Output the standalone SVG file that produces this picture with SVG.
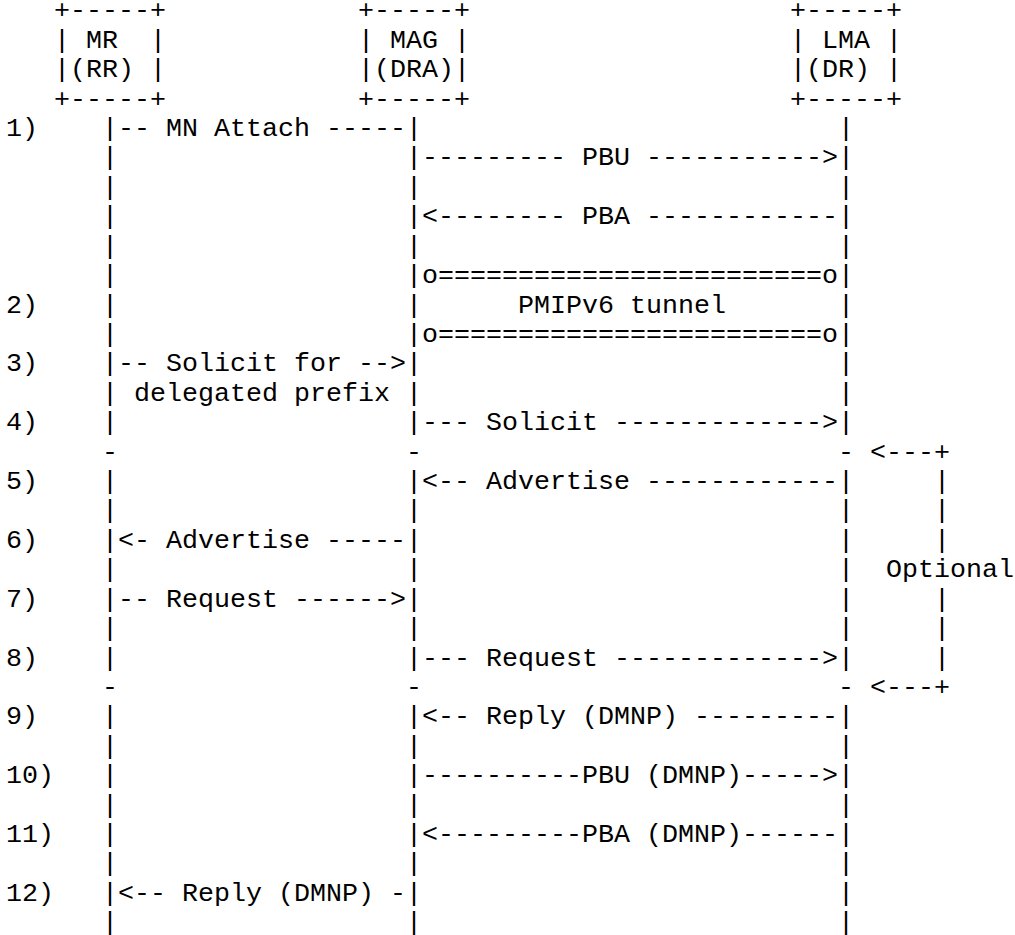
<svg xmlns="http://www.w3.org/2000/svg" width="1015" height="935" viewBox="0 0 1015 935" xml:space="preserve">
<style>
text{font-family:"Liberation Mono","Courier New",monospace;font-size:26.67px;fill:#000;white-space:pre}
</style>
<rect x="0" y="0" width="1015" height="935" fill="#fff"/>
<g id="node-mr">
<text x="54" y="18.3">+-----+</text>
<text x="54" y="47.72">| MR  |</text>
<text x="54" y="77.14">|(RR) |</text>
<text x="54" y="106.56">+-----+</text>
</g>
<g id="node-mag">
<text x="358" y="18.3">+-----+</text>
<text x="358" y="47.72">| MAG |</text>
<text x="358" y="77.14">|(DRA)|</text>
<text x="358" y="106.56">+-----+</text>
</g>
<g id="node-lma">
<text x="790" y="18.3">+-----+</text>
<text x="790" y="47.72">| LMA |</text>
<text x="790" y="77.14">|(DR) |</text>
<text x="790" y="106.56">+-----+</text>
</g>
<g id="step-labels">
<text x="6" y="135.98">1)</text>
<text x="6" y="312.5">2)</text>
<text x="6" y="371.34">3)</text>
<text x="6" y="430.18">4)</text>
<text x="6" y="489.02">5)</text>
<text x="6" y="547.86">6)</text>
<text x="6" y="606.7">7)</text>
<text x="6" y="665.54">8)</text>
<text x="6" y="724.38">9)</text>
<text x="6" y="783.22">10)</text>
<text x="6" y="842.06">11)</text>
<text x="6" y="900.9">12)</text>
</g>
<g id="connectors">
<g id="lifelines">
<text id="life-mr" x="102 102 102 102 102 102 102 102 102 102 102 102 102 102 102 102 102 102 102 102 102 102 102 102 102 102 102 102" y="135.98 165.4 194.82 224.24 253.66 283.08 312.5 341.92 371.34 400.76 430.18 459.6 489.02 518.44 547.86 577.28 606.7 636.12 665.54 694.96 724.38 753.8 783.22 812.64 842.06 871.48 900.9 930.32">|||||||||||-|||||||-||||||||</text>
<text id="life-mag" x="406 406 406 406 406 406 406 406 406 406 406 406 406 406 406 406 406 406 406 406 406 406 406 406 406 406 406 406" y="135.98 165.4 194.82 224.24 253.66 283.08 312.5 341.92 371.34 400.76 430.18 459.6 489.02 518.44 547.86 577.28 606.7 636.12 665.54 694.96 724.38 753.8 783.22 812.64 842.06 871.48 900.9 930.32">|||||||||||-|||||||-||||||||</text>
<text id="life-lma" x="838 838 838 838 838 838 838 838 838 838 838 838 838 838 838 838 838 838 838 838 838 838 838 838 838 838 838 838" y="135.98 165.4 194.82 224.24 253.66 283.08 312.5 341.92 371.34 400.76 430.18 459.6 489.02 518.44 547.86 577.28 606.7 636.12 665.54 694.96 724.38 753.8 783.22 812.64 842.06 871.48 900.9 930.32">|||||||||||-|||||||-||||||||</text>
</g>
<g id="messages">
<text x="118" y="135.98">-- MN Attach -----</text>
<text x="422" y="165.4">--------- PBU -----------&gt;</text>
<text x="422" y="224.24">&lt;-------- PBA ------------</text>
<text x="422" y="283.08">o========================o</text>
<text x="518" y="312.5">PMIPv6 tunnel</text>
<text x="422" y="341.92">o========================o</text>
<text x="118" y="371.34">-- Solicit for --&gt;</text>
<text x="134" y="400.76">delegated prefix</text>
<text x="422" y="430.18">--- Solicit -------------&gt;</text>
<text x="422" y="489.02">&lt;-- Advertise ------------</text>
<text x="118" y="547.86">&lt;- Advertise -----</text>
<text x="118" y="606.7">-- Request ------&gt;</text>
<text x="422" y="665.54">--- Request -------------&gt;</text>
<text x="422" y="724.38">&lt;-- Reply (DMNP) ---------</text>
<text x="422" y="783.22">----------PBU (DMNP)-----&gt;</text>
<text x="422" y="842.06">&lt;---------PBA (DMNP)------</text>
<text x="118" y="900.9">&lt;-- Reply (DMNP) -</text>
</g>
<g id="optional-bracket">
<text x="870" y="459.6">&lt;---+</text>
<text x="934 934 934" y="489.02 518.44 547.86">|||</text>
<text x="886" y="577.28">Optional</text>
<text x="934 934 934" y="606.7 636.12 665.54">|||</text>
<text x="870" y="694.96">&lt;---+</text>
</g>
</g>
</svg>
